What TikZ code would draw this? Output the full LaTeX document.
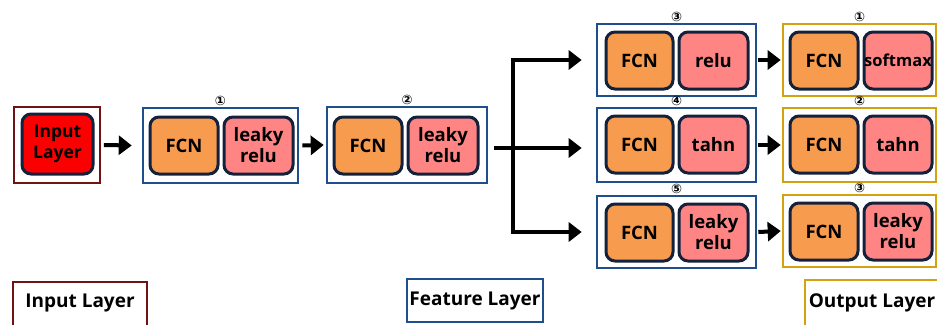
\documentclass[tikz,border=0pt]{standalone}
\usepackage{fontspec}
\setmainfont{Open Sans}
\newfontfamily\symfont{DejaVu Sans}
\usetikzlibrary{arrows.meta}
\definecolor{inred}{HTML}{6E1414}
\definecolor{fblue}{HTML}{1F4E8C}
\definecolor{ogold}{HTML}{D4A20F}
\definecolor{cnavy}{HTML}{14213D}
\definecolor{corange}{HTML}{F79B4F}
\definecolor{cpink}{HTML}{FF8585}
\definecolor{cred}{HTML}{FA0000}
\begin{document}
\begin{tikzpicture}[x=1pt,y=-1pt,
  outbox/.style={draw, line width=2.6pt, inner sep=0pt},
  cell/.style={draw=cnavy, line width=3pt, rounded corners=9pt, inner sep=0pt,
    minimum height=57pt, font=\fontsize{18.5}{21}\selectfont\bfseries, align=center},
  fcn/.style={cell, fill=corange, minimum width=68pt},
  act/.style={cell, fill=cpink, minimum width=69pt},
  num/.style={font=\symfont\bfseries\fontsize{13}{13}\selectfont, anchor=south, inner sep=0.5pt, yshift=0pt},
  arr/.style={line width=4pt, -{Triangle[length=13pt,width=19pt]}},
  lbl/.style={font=\fontsize{19}{21}\selectfont\bfseries, inner sep=0pt},
  lbox/.style={draw, line width=2.6pt, inner sep=0pt}
]
\useasboundingbox (0,0) rectangle (937,324);

% input
\node[outbox, draw=inred, minimum width=86pt, minimum height=76pt] (inout) at (57,145) {};
\node[cell, fill=cred, minimum width=71pt, minimum height=60pt, font=\fontsize{17.5}{21}\selectfont\bfseries] (inbox) at (57.5,144) {Input\\Layer};

% feature box 1
\node[outbox, draw=fblue, minimum width=155pt, minimum height=75pt] (f1) at (220.5,145.5) {};
\node[fcn] (f1a) at (184,145.5) {FCN};
\node[act] (f1b) at (258.5,145.5) {leaky\\relu};
\node[num] (n1) at (f1.north) {①};

% feature box 2
\node[outbox, draw=fblue, minimum width=160pt, minimum height=76pt] (f2) at (407,145) {};
\node[fcn] (f2a) at (368,145.5) {FCN};
\node[act, minimum width=70pt] (f2b) at (443,145.5) {leaky\\relu};
\node[num] (n2) at (f2.north) {②};

% feature box 3,4,5
\node[outbox, draw=fblue, minimum width=159pt, minimum height=72pt] (f3) at (676.5,60) {};
\node[fcn, minimum width=67pt] (f3a) at (639.5,60.5) {FCN};
\node[act] (f3b) at (713.5,60.5) {relu};
\node[num] (n3) at (f3.north) {③};

\node[outbox, draw=fblue, minimum width=159pt, minimum height=74pt] (f4) at (676.5,145) {};
\node[fcn, minimum width=67pt] (f4a) at (639.5,144.5) {FCN};
\node[act] (f4b) at (713.5,144.5) {tahn};
\node[num] (n4) at (f4.north) {④};

\node[outbox, draw=fblue, minimum width=159pt, minimum height=72pt] (f5) at (676.5,232) {};
\node[fcn, minimum width=67pt] (f5a) at (639.5,232.5) {FCN};
\node[act] (f5b) at (713.5,232.5) {leaky\\relu};
\node[num] (n5) at (f5.north) {⑤};

% output boxes
\node[outbox, draw=ogold, minimum width=153pt, minimum height=72pt] (o1) at (859.5,60) {};
\node[fcn] (o1a) at (824,60.5) {FCN};
\node[act, minimum width=68pt, font=\fontsize{16.5}{20}\selectfont\bfseries] (o1b) at (898,60.5) {softmax};
\node[num] (m1) at (o1.north) {①};

\node[outbox, draw=ogold, minimum width=153pt, minimum height=74pt] (o2) at (859.5,145) {};
\node[fcn] (o2a) at (824,144.5) {FCN};
\node[act, minimum width=68pt] (o2b) at (898,144.5) {tahn};
\node[num] (m2) at (o2.north) {②};

\node[outbox, draw=ogold, minimum width=153pt, minimum height=72pt] (o3) at (859.5,231) {};
\node[fcn] (o3a) at (824,231.5) {FCN};
\node[act, minimum width=68pt] (o3b) at (898,231.5) {leaky\\relu};
\node[num] (m3) at (o3.north) {③};

% arrows
\draw[arr] ([xshift=2.5pt]inout.east) -- ([xshift=-10pt]f1.west);
\draw[arr] ([xshift=3pt]f1.east) -- ([xshift=-2pt]f2.west);
\coordinate (bs) at ([xshift=6pt, yshift=-3pt]f2.east);
\coordinate (bm) at (513,148);
\draw[arr] (bs) -- ([xshift=-14pt]bs -| f4.west);
\draw[arr] (bm) -- (bm |- f3.west) -- ([xshift=-14pt]f3.west);
\draw[arr] (bm) -- (bm |- f5.west) -- ([xshift=-14pt]f5.west);
\draw[arr] ([xshift=1pt]f3.east) -- ([xshift=-1pt]o1.west);
\draw[arr] ([xshift=1pt]f4.east) -- ([xshift=-1pt]o2.west);
\draw[arr] ([xshift=1pt]f5.east) -- ([xshift=-1pt]o3.west);

% bottom legend
\node[lbox, draw=inred, minimum width=134pt, minimum height=53pt] (lin) at (80,308.5) {};
\node[lbl] (tin) at (80,303) {Input Layer};
\node[lbox, draw=fblue, minimum width=136pt, minimum height=43pt, lbl] (lfe) at (475,300.5) {Feature Layer};
\node[lbox, draw=ogold, minimum width=140pt, minimum height=55pt] (lout) at (875,307.5) {};
\node[lbl] (tout) at (872,303) {Output Layer};
\end{tikzpicture}
\end{document}
